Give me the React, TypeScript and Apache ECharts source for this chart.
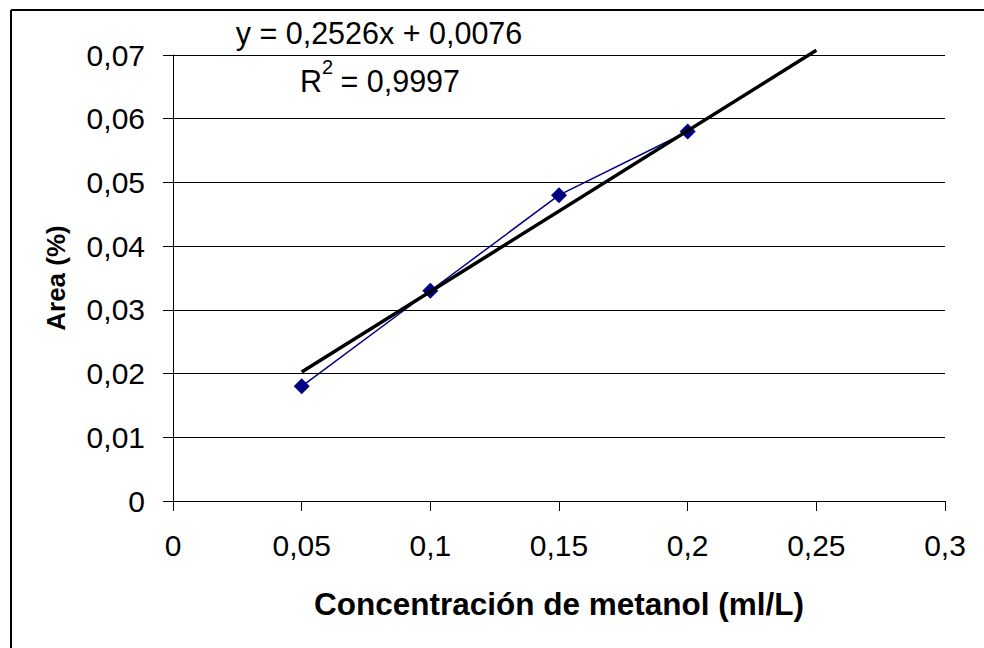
import React, { useEffect, useRef } from "react";
import * as echarts from "echarts";

// Calibration data: methanol concentration vs. peak area
const concentrations = [0.05, 0.1, 0.15, 0.2];
const areas = [0.018, 0.033, 0.048, 0.058];

// Linear fit reported on the chart
const slope = 0.2526;
const intercept = 0.0076;
const rSquared = "0,9997";
const trendRange = [0.05, 0.25];

const xTitle = "Concentración de metanol (ml/L)";
const yTitle = "Area (%)";

const FONT = "'Liberation Sans', Arial, sans-serif";

const fmt = (v: number) =>
  String(parseFloat(v.toFixed(3))).replace(".", ",");
const dec = (v: number) => String(v).replace(".", ",");

export default function App() {
  const ref = useRef<HTMLDivElement>(null);

  useEffect(() => {
    document.body.style.margin = "0";
    document.body.style.overflow = "hidden";
    if (!ref.current) return;
    const chart = echarts.init(ref.current, null, { renderer: "svg" });

    const points = concentrations.map((c, i) => [c, areas[i]]);
    const trend = trendRange.map((x) => [x, slope * x + intercept]);
    const eqText = "y = " + dec(slope) + "x + " + dec(intercept);

    const labelText = (text: string, x: number, y: number, size: number) => ({
      type: "text",
      x,
      y,
      style: {
        text,
        fontSize: size,
        fontFamily: FONT,
        fill: "#000",
        align: "left",
        verticalAlign: "middle",
      },
    });

    chart.setOption({
      animation: false,
      backgroundColor: "#ffffff",
      textStyle: { fontFamily: FONT },
      grid: { left: 173, right: 39, top: 55, bottom: 147 },
      xAxis: {
        type: "value",
        min: 0,
        max: 0.3,
        interval: 0.05,
        name: xTitle,
        nameLocation: "middle",
        nameGap: 87,
        nameTextStyle: { fontSize: 31.5, fontWeight: "bold", color: "#000", fontFamily: FONT },
        axisLine: { show: true, lineStyle: { color: "#000", width: 1 } },
        axisTick: { show: true, length: 10, inside: false, lineStyle: { color: "#000" } },
        axisLabel: {
          fontSize: 30,
          color: "#000",
          margin: 29,
          fontFamily: FONT,
          formatter: (v: number) => fmt(v),
        },
        splitLine: { show: false },
      },
      yAxis: {
        type: "value",
        min: 0,
        max: 0.07,
        interval: 0.01,
        name: yTitle,
        nameLocation: "middle",
        nameGap: 104,
        nameRotate: 90,
        nameTextStyle: { fontSize: 26, fontWeight: "bold", color: "#000", fontFamily: FONT },
        axisLine: { show: true, lineStyle: { color: "#000", width: 1 } },
        axisTick: { show: true, length: 10, inside: false, lineStyle: { color: "#000" } },
        axisLabel: {
          fontSize: 30,
          color: "#000",
          margin: 28,
          fontFamily: FONT,
          formatter: (v: number) => fmt(v),
        },
        splitLine: { show: true, lineStyle: { color: "#000", width: 1 } },
      },
      series: [
        {
          type: "line",
          data: points,
          symbol: "diamond",
          symbolSize: 16,
          itemStyle: { color: "#000080" },
          lineStyle: { color: "#000080", width: 1.5 },
          z: 2,
          clip: false,
        },
        {
          type: "line",
          data: trend,
          symbol: "none",
          lineStyle: { color: "#000", width: 3.5 },
          z: 3,
          clip: false,
          silent: true,
        },
      ],
      graphic: [
        {
          type: "line",
          shape: { x1: 11, y1: 10, x2: 984, y2: 10 },
          style: { stroke: "#000", lineWidth: 2 },
          silent: true,
        },
        {
          type: "line",
          shape: { x1: 11, y1: 10, x2: 11, y2: 648 },
          style: { stroke: "#000", lineWidth: 2 },
          silent: true,
        },
        {
          type: "text",
          x: 379,
          y: 33,
          style: {
            text: eqText,
            fontSize: 30.5,
            fontFamily: FONT,
            fill: "#000",
            align: "center",
            verticalAlign: "middle",
          },
        },
        // R² = ... with a raised exponent
        labelText("R", 300, 81, 30.5),
        labelText("2", 322, 67, 20),
        labelText(" = " + rSquared, 332, 81, 30.5),
      ],
    });

    return () => chart.dispose();
  }, []);

  return (
    <div
      ref={ref}
      style={{ position: "fixed", left: 0, top: 0, width: 984, height: 648, background: "#fff" }}
    />
  );
}
